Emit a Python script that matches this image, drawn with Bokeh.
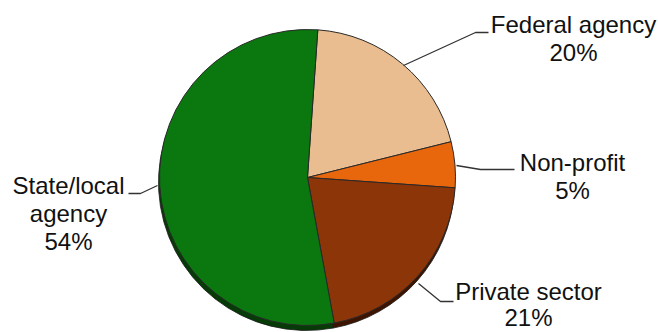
import math
from bokeh.plotting import figure
from bokeh.models import Range1d, ColumnDataSource
from bokeh.core.properties import value
from bokeh.embed import file_html
from bokeh.resources import INLINE

# ---- data ----
categories = ["Federal agency", "Non-profit", "Private sector", "State/local\nagency"]
shares = [20, 5, 21, 54]
colors = ["#E9BD8F", "#E8660C", "#8C3508", "#0A780F"]
shadow_colors = ["#8a6a48", "#7a3004", "#3e1400", "#063a06"]

W, H = 658, 332
cx, cy, r = 307, 177, 148          # pixel-space centre / radius
start_offset_deg = 4                # first slice starts slightly right of 12 o'clock

def Y(py):
    return H - py

total = sum(shares)
starts, ends = [], []
a = math.pi / 2 - math.radians(start_offset_deg)
for s in shares:
    starts.append(a)
    a = a - s / total * 2 * math.pi
    ends.append(a)

p = figure(width=W, height=H, output_backend="svg", toolbar_location=None,
           x_range=Range1d(0, W), y_range=Range1d(0, H), min_border=0)
p.axis.visible = False
p.grid.visible = False
p.outline_line_color = None
p.background_fill_color = "white"
p.border_fill_color = "white"

# shadow (3D edge)
sh = ColumnDataSource(dict(x=[cx - 1] * 4, y=[Y(cy + 5)] * 4, start=starts, end=ends, color=shadow_colors))
p.wedge(x="x", y="y", radius=r, start_angle="start", end_angle="end", direction="clock",
        fill_color="color", line_color="#1a1a1a", line_width=0.8, source=sh)

src = ColumnDataSource(dict(x=[cx] * 4, y=[Y(cy)] * 4, start=starts, end=ends, color=colors))
p.wedge(x="x", y="y", radius=r, start_angle="start", end_angle="end", direction="clock",
        fill_color="color", line_color="#2a2a2a", line_width=1, source=src)

# leader lines (pixel coordinates of the annotation layout)
leaders = [
    [(403, 65), (475, 32), (488, 32)],
    [(456, 165), (480, 169), (514, 169)],
    [(418, 283), (440, 301), (453, 301)],
    [(157, 185), (140, 193), (128, 193)],
]
for pts in leaders:
    p.line([q[0] for q in pts], [Y(q[1]) for q in pts], line_color="#333333", line_width=1.3)

# labels: centre x, first baseline y (offset corrects renderer baseline placement), line spacing
label_pos = [(573, 24, 28), (572, 162, 28), (528, 291, 26), (68, 185, 28)]
tx, ty, tt = [], [], []
for name, s, (lx, ly, lh) in zip(categories, shares, label_pos):
    lines = name.split("\n") + [f"{s}%"]
    for i, t in enumerate(lines):
        tx.append(lx)
        ty.append(Y(ly + i * lh))
        tt.append(t)
p.text(x=tx, y=ty, text=tt, text_align="center", text_baseline="alphabetic",
       text_font=value("Liberation Sans"), text_font_size="24px", text_color="#111111")

open("out.html", "w").write(file_html(p, INLINE))
